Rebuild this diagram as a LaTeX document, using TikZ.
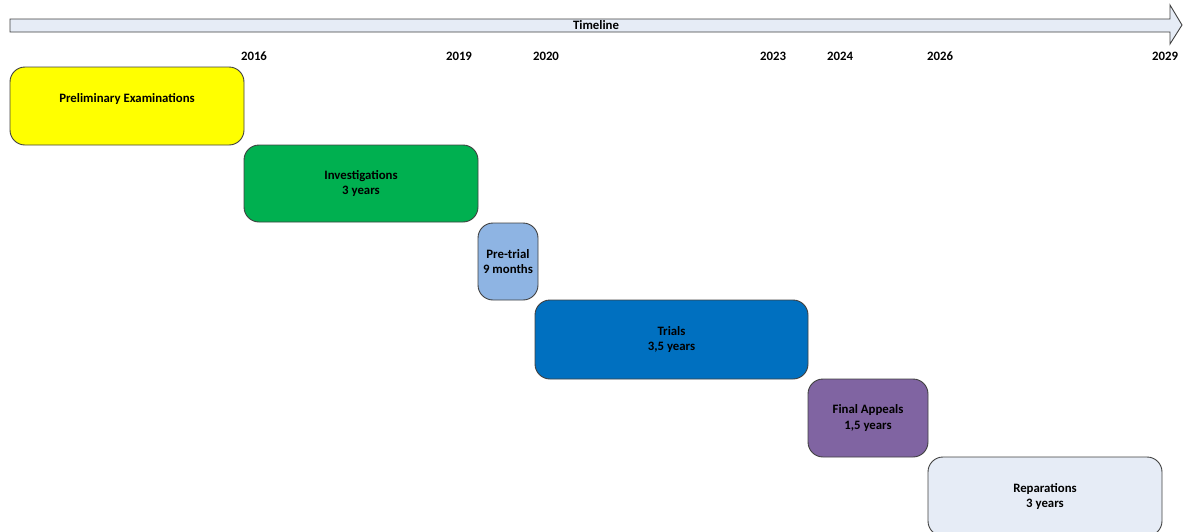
\documentclass[tikz,border=0pt]{standalone}
\usepackage{fontspec}
\setmainfont{Carlito}
\usepackage{tikz}
\usetikzlibrary{positioning}
\tikzstyle{pixelGrid} = [x = 1pt, y = -1pt]
\definecolor{lineColor}{RGB}{64,64,64}
\definecolor{paleBlue}{RGB}{230,236,246}
\definecolor{prelimColor}{RGB}{255,255,0}
\definecolor{investColor}{RGB}{0,176,80}
\definecolor{pretrialColor}{RGB}{142,180,227}
\definecolor{trialColor}{RGB}{0,112,192}
\definecolor{appealColor}{RGB}{128,100,162}
\tikzstyle{phaseBox} = [draw=lineColor, line width=0.9pt, rounded corners = 15pt, inner sep=0pt, align=center, font=\fontsize{12.8}{15.5}\selectfont\bfseries]
\tikzstyle{yearText} = [font=\fontsize{12.8}{14}\selectfont\bfseries]
% #1 name, #2 colour, #3 left, #4 top, #5 right, #6 bottom, #7 text
\newcommand{\phase}[7]{\node [phaseBox, fill=#2, minimum width={#5-#3}, minimum height={#6-#4}] (#1) at ({(#3+#5)/2}, {(#4+#6)/2}) {#7};}

\begin{document}
\begin{tikzpicture}[pixelGrid]
  \useasboundingbox (0,0) rectangle (1192,531);
  % timeline arrow
  \filldraw [draw=lineColor, fill=paleBlue, line width=0.9pt] (10,19) -- (1170,19) -- (1170,5) -- (1182,25) -- (1170,44) -- (1170,32) -- (10,32) -- cycle;
  \node [font=\fontsize{12.8}{14}\selectfont\bfseries] (timeline) at (596,25.5) {Timeline};
  \foreach \yr/\xpos in {2016/254, 2019/459, 2020/546, 2023/773, 2024/840, 2026/940, 2029/1165} {
    \node [yearText] (y\yr) at (\xpos,56) {\yr};
  }
  \phase{prelim}{prelimColor}{10}{67}{244}{145}{Preliminary Examinations\\ ~}
  \phase{invest}{investColor}{244}{145}{478}{222}{Investigations\\3 years}
  \phase{pretrial}{pretrialColor}{478}{223}{538}{300}{Pre-trial\\9 months}
  \phase{trials}{trialColor}{535}{300}{808}{379}{Trials\\3,5 years}
  \phase{appeals}{appealColor}{808}{379}{928}{457}{Final Appeals\\1,5 years}
  \phase{repar}{paleBlue}{928}{457}{1162}{536}{Reparations\\3 years}
\end{tikzpicture}
\end{document}
